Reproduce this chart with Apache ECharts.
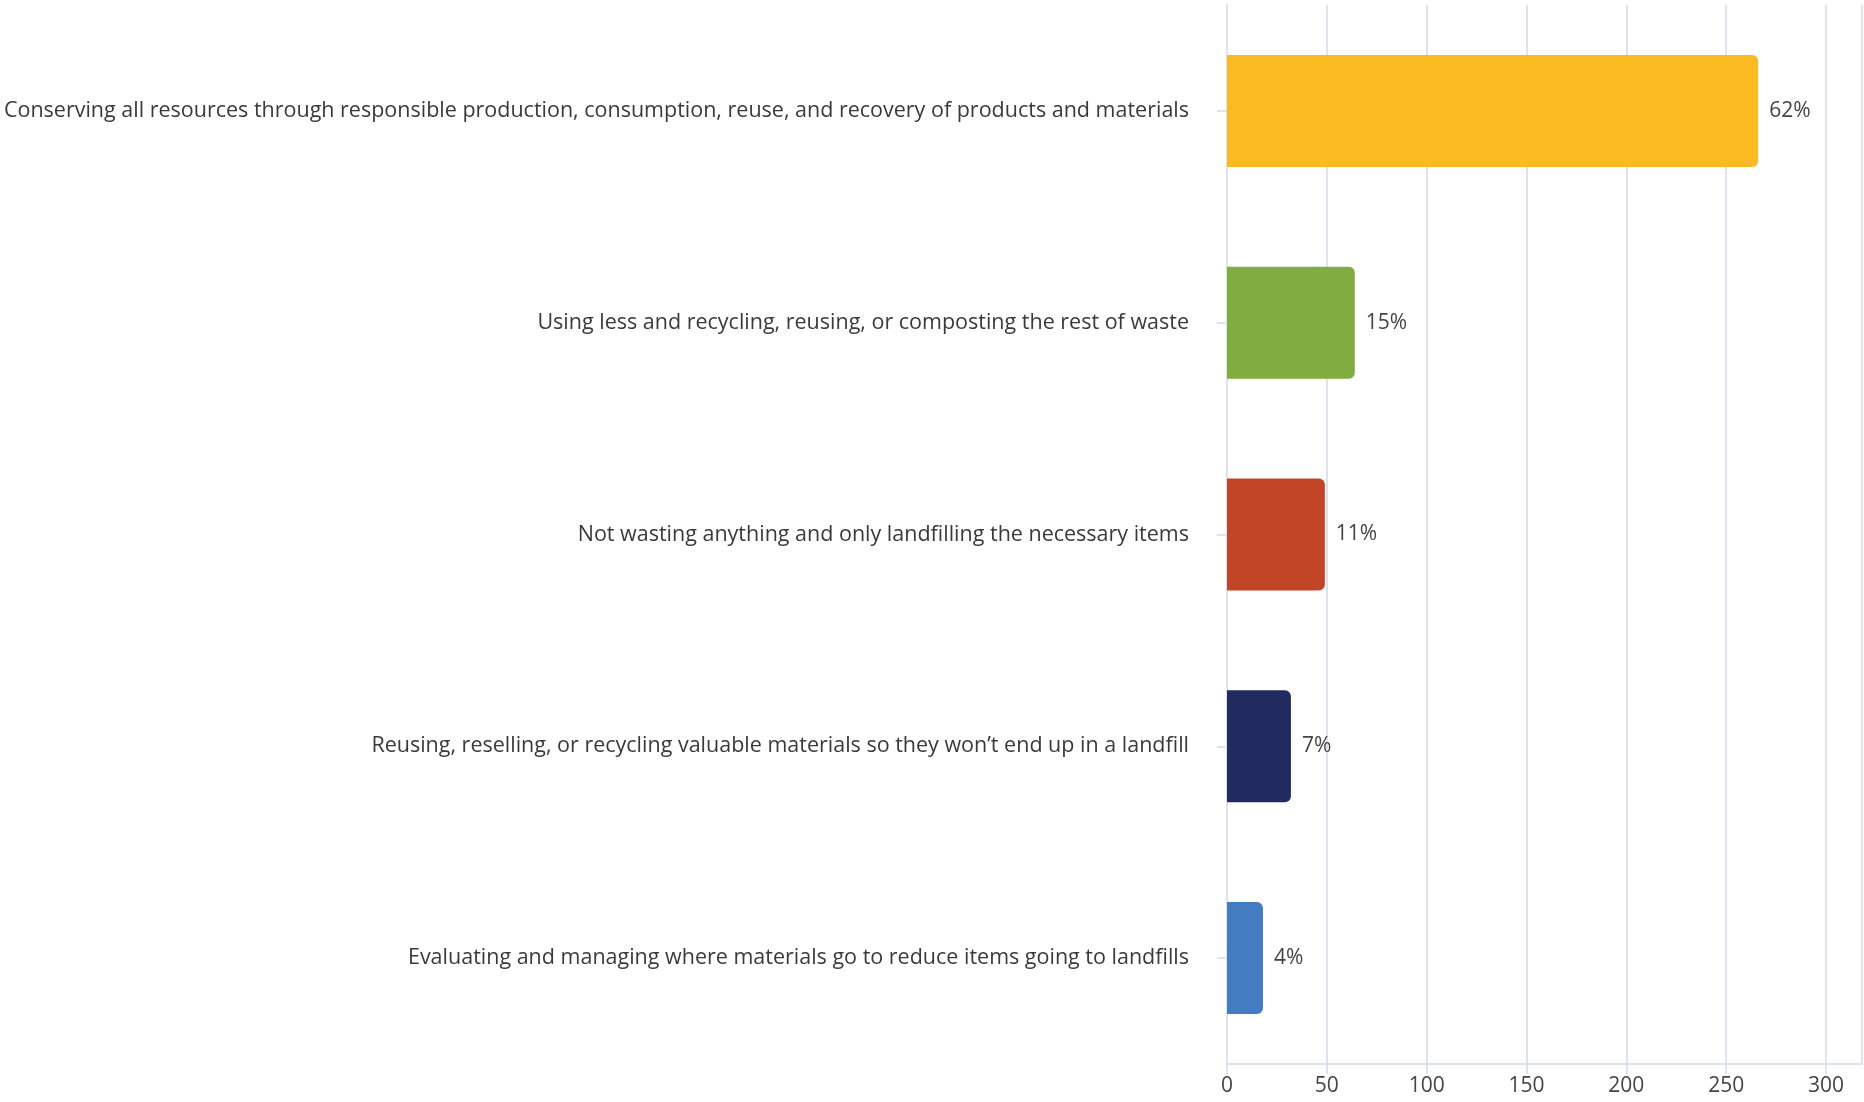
<!DOCTYPE html>
<html>
<head>
<meta charset="utf-8">
<script src="https://cdn.jsdelivr.net/npm/echarts@6/dist/echarts.min.js"></script>
<style>
  html, body { margin: 0; padding: 0; background: #fff; }
  #main { width: 1864px; height: 1102px; }
</style>
</head>
<body>
<div id="main"></div>
<script>
// categories, top to bottom
var categories = [
  'Conserving all resources through responsible production, consumption, reuse, and recovery of products and materials',
  'Using less and recycling, reusing, or composting the rest of waste',
  'Not wasting anything and only landfilling the necessary items',
  'Reusing, reselling, or recycling valuable materials so they won\u2019t end up in a landfill',
  'Evaluating and managing where materials go to reduce items going to landfills'
];
// response counts
var counts = [266, 64, 49, 32, 18];
// percent labels as printed
var percentLabels = ['62%', '15%', '11%', '7%', '4%'];
var barColors = ['#FBBA22', '#80AC40', '#C14527', '#212B5F', '#437CC0'];

var myChart = echarts.init(document.getElementById('main'));

var gridColor = '#E0E1EE';
var textFont = '"Open Sans", "Noto Sans", sans-serif';

myChart.setOption({
  animation: false,
  grid: {
    left: 1227,
    right: 2,
    top: 5,
    bottom: 38,
    outerBoundsMode: 'none'
  },
  xAxis: {
    type: 'value',
    min: 0,
    max: 318,
    interval: 50,
    axisLine: { show: true, lineStyle: { color: gridColor, width: 2 } },
    axisTick: { show: true, length: 10, lineStyle: { color: gridColor, width: 2 } },
    splitLine: { show: true, lineStyle: { color: gridColor, width: 2 } },
    axisLabel: {
      color: '#444',
      fontSize: 21,
      fontFamily: textFont,
      margin: 12,
      showMaxLabel: false
    }
  },
  yAxis: {
    type: 'category',
    inverse: true,
    data: categories,
    axisLine: { show: true, lineStyle: { color: gridColor, width: 2 } },
    axisTick: { show: true, alignWithLabel: true, length: 10, lineStyle: { color: gridColor, width: 2 } },
    axisLabel: {
      color: '#3a3a3a',
      fontSize: 21.5,
      fontFamily: textFont,
      margin: 38
    }
  },
  series: [
    {
      type: 'bar',
      barWidth: 112,
      data: counts.map(function (v, i) {
        return { value: v, itemStyle: { color: barColors[i] } };
      }),
      itemStyle: { borderRadius: [0, 6, 6, 0] },
      label: {
        show: true,
        position: 'right',
        distance: 11,
        color: '#444',
        fontSize: 21,
        fontFamily: textFont,
        formatter: function (p) { return percentLabels[p.dataIndex]; }
      }
    }
  ]
});
</script>
</body>
</html>
